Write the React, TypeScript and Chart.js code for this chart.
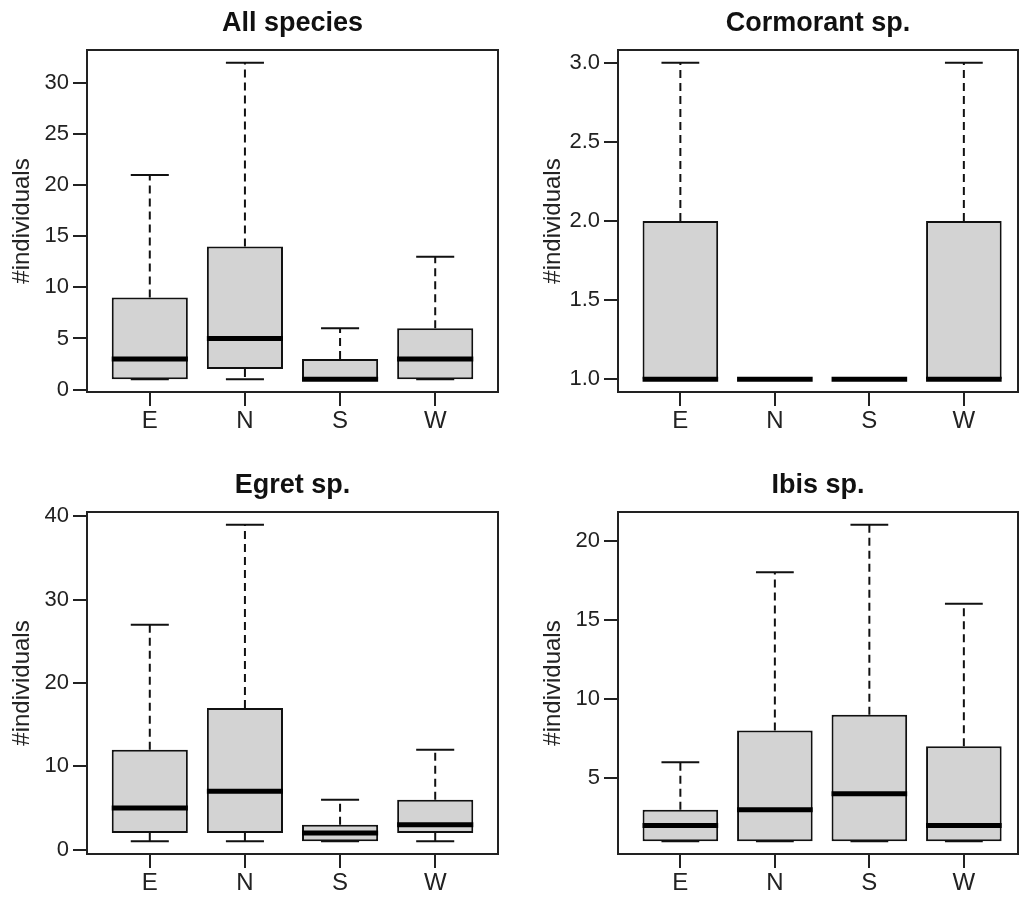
import React, { useEffect, useRef } from 'react';
import { Chart, registerables } from 'chart.js';

Chart.register(...registerables);

const FONT = "'Liberation Sans', Arial, sans-serif";

const categories = ['E', 'N', 'S', 'W'];
const categoryPositions = [1, 2, 3, 4];

// All species
const allMin = [1, 1, 1, 1];
const allQ1 = [1, 2, 1, 1];
const allMedian = [3, 5, 1, 3];
const allQ3 = [9, 14, 3, 6];
const allMax = [21, 32, 6, 13];
const allTicks = [0, 5, 10, 15, 20, 25, 30];
const allTickLabels = ['0', '5', '10', '15', '20', '25', '30'];

// Cormorant sp.
const corMin = [1, 1, 1, 1];
const corQ1 = [1, 1, 1, 1];
const corMedian = [1, 1, 1, 1];
const corQ3 = [2, 1, 1, 2];
const corMax = [3, 1, 1, 3];
const corTicks = [1, 1.5, 2, 2.5, 3];
const corTickLabels = ['1.0', '1.5', '2.0', '2.5', '3.0'];

// Egret sp.
const egrMin = [1, 1, 1, 1];
const egrQ1 = [2, 2, 1, 2];
const egrMedian = [5, 7, 2, 3];
const egrQ3 = [12, 17, 3, 6];
const egrMax = [27, 39, 6, 12];
const egrTicks = [0, 10, 20, 30, 40];
const egrTickLabels = ['0', '10', '20', '30', '40'];

// Ibis sp.
const ibiMin = [1, 1, 1, 1];
const ibiQ1 = [1, 1, 1, 1];
const ibiMedian = [2, 3, 4, 2];
const ibiQ3 = [3, 8, 9, 7];
const ibiMax = [6, 18, 21, 16];
const ibiTicks = [5, 10, 15, 20];
const ibiTickLabels = ['5', '10', '15', '20'];

type PanelProps = {
  title: string;
  min: number[];
  q1: number[];
  median: number[];
  q3: number[];
  max: number[];
  ticks: number[];
  tickLabels: string[];
  yMin: number;
  yMax: number;
  xMin: number;
  xMax: number;
  left: number;
  top: number;
  width: number;
  height: number;
};

function Panel(p: PanelProps) {
  const ref = useRef<HTMLCanvasElement | null>(null);
  useEffect(() => {
    if (!ref.current) return;
    const boxExtras = {
      id: 'boxExtras',
      afterDatasetsDraw(chart: any) {
        const { ctx } = chart;
        const ys = chart.scales.y;
        const meta = chart.getDatasetMeta(0);
        ctx.save();
        meta.data.forEach((bar: any, i: number) => {
          const props = bar.getProps(['x', 'width'], true);
          const cx = props.x;
          const w = props.width;
          const yMinP = ys.getPixelForValue(p.min[i]);
          const yQ1 = ys.getPixelForValue(p.q1[i]);
          const yQ3 = ys.getPixelForValue(p.q3[i]);
          const yMaxP = ys.getPixelForValue(p.max[i]);
          const yMed = ys.getPixelForValue(p.median[i]);
          ctx.strokeStyle = '#111';
          ctx.lineWidth = 2;
          ctx.lineCap = 'butt';
          // dashed whiskers
          ctx.setLineDash([8, 5]);
          ctx.beginPath();
          ctx.moveTo(cx, yQ3);
          ctx.lineTo(cx, yMaxP);
          ctx.moveTo(cx, yQ1);
          ctx.lineTo(cx, yMinP);
          ctx.stroke();
          // staples
          ctx.setLineDash([]);
          ctx.beginPath();
          ctx.moveTo(cx - w / 4, yMaxP);
          ctx.lineTo(cx + w / 4, yMaxP);
          ctx.moveTo(cx - w / 4, yMinP);
          ctx.lineTo(cx + w / 4, yMinP);
          ctx.stroke();
          // median
          ctx.lineWidth = 5;
          ctx.strokeStyle = '#000';
          ctx.beginPath();
          ctx.moveTo(cx - w / 2, yMed);
          ctx.lineTo(cx + w / 2, yMed);
          ctx.stroke();
        });
        ctx.restore();
      },
      afterDraw(chart: any) {
        const { ctx, chartArea } = chart;
        ctx.save();
        ctx.strokeStyle = '#222';
        ctx.lineWidth = 2;
        ctx.strokeRect(chartArea.left, chartArea.top, chartArea.right - chartArea.left, chartArea.bottom - chartArea.top);
        ctx.restore();
      },
    };

    const chart = new Chart(ref.current, {
      type: 'bar',
      data: {
        datasets: [
          {
            data: categoryPositions.map((x, i) => ({ x, y: [p.q1[i], p.q3[i]] })) as any,
            backgroundColor: '#d3d3d3',
            borderColor: '#111',
            borderWidth: 2,
            borderSkipped: false,
            barPercentage: 0.8,
            categoryPercentage: 1,
          },
        ],
      },
      options: {
        animation: false,
        responsive: false,
        events: [],
        layout: { padding: { left: 0, top: 0, right: 12, bottom: 0 } },
        plugins: {
          legend: { display: false },
          tooltip: { enabled: false },
          title: {
            display: true,
            text: p.title,
            fullSize: false,
            color: '#111',
            font: { family: FONT, size: 27, weight: 'bold' },
            padding: { top: 7, bottom: 10.6 },
          },
        },
        scales: {
          x: {
            type: 'linear',
            min: p.xMin,
            max: p.xMax,
            offset: false,
            afterBuildTicks: (s: any) => {
              s.ticks = categoryPositions.map((v) => ({ value: v }));
            },
            afterFit: (s: any) => {
              s.height = 48;
            },
            ticks: {
              autoSkip: false,
              maxRotation: 0,
              padding: 1,
              color: '#222',
              font: { family: FONT, size: 24 },
              callback: (v: any) => categories[categoryPositions.indexOf(Number(v))],
            },
            grid: {
              offset: false,
              drawOnChartArea: false,
              drawTicks: true,
              tickLength: 14,
              color: '#222',
              lineWidth: 2,
            },
            border: { display: false },
          },
          y: {
            type: 'linear',
            min: p.yMin,
            max: p.yMax,
            afterBuildTicks: (s: any) => {
              s.ticks = p.ticks.map((v) => ({ value: v }));
            },
            afterFit: (s: any) => {
              s.width = 87;
            },
            ticks: {
              autoSkip: false,
              padding: 4,
              color: '#222',
              font: { family: FONT, size: 22 },
              callback: (v: any) => p.tickLabels[p.ticks.indexOf(Number(v))],
            },
            grid: {
              offset: false,
              drawOnChartArea: false,
              drawTicks: true,
              tickLength: 14,
              color: '#222',
              lineWidth: 2,
            },
            border: { display: false },
            title: {
              display: true,
              text: '#individuals',
              color: '#222',
              font: { family: FONT, size: 24 },
              padding: { top: 8, bottom: 0 },
            },
          },
        },
      } as any,
      plugins: [boxExtras],
    });
    return () => chart.destroy();
  }, []);

  return (
    <div style={{ position: 'absolute', left: p.left, top: p.top, width: p.width, height: p.height }}>
      <canvas ref={ref} width={p.width} height={p.height} style={{ width: p.width, height: p.height, display: 'block' }} />
    </div>
  );
}

export default function App() {
  return (
    <div
      style={{
        position: 'absolute',
        left: 0,
        top: 0,
        width: 1019,
        height: 897,
        overflow: 'hidden',
        background: '#fff',
      }}
    >
      <Panel title="All species" min={allMin} q1={allQ1} median={allMedian} q3={allQ3} max={allMax}
        ticks={allTicks} tickLabels={allTickLabels} yMin={-0.24} yMax={33.24} xMin={0.34} xMax={4.66}
        left={0} top={0} width={510} height={440} />
      <Panel title="Cormorant sp." min={corMin} q1={corQ1} median={corMedian} q3={corQ3} max={corMax}
        ticks={corTicks} tickLabels={corTickLabels} yMin={0.92} yMax={3.08} xMin={0.34} xMax={4.573}
        left={531} top={0} width={499} height={440} />
      <Panel title="Egret sp." min={egrMin} q1={egrQ1} median={egrMedian} q3={egrQ3} max={egrMax}
        ticks={egrTicks} tickLabels={egrTickLabels} yMin={-0.52} yMax={40.52} xMin={0.34} xMax={4.66}
        left={0} top={462} width={510} height={440} />
      <Panel title="Ibis sp." min={ibiMin} q1={ibiQ1} median={ibiMedian} q3={ibiQ3} max={ibiMax}
        ticks={ibiTicks} tickLabels={ibiTickLabels} yMin={0.2} yMax={21.8} xMin={0.34} xMax={4.573}
        left={531} top={462} width={499} height={440} />
    </div>
  );
}
